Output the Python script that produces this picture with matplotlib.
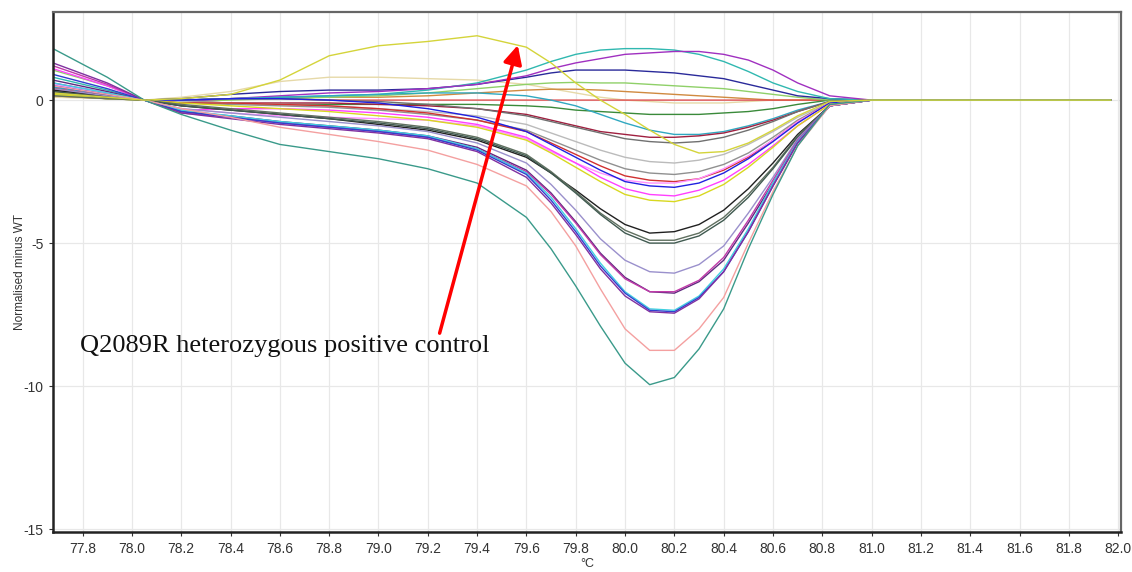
import matplotlib
matplotlib.use("Agg")
import matplotlib.pyplot as plt
from matplotlib.ticker import MultipleLocator

# Temperatures (°C) at which curves are sampled
temps = [77.68, 77.9, 78.05, 78.2, 78.4, 78.6, 78.8, 79.0, 79.2, 79.4, 79.6, 79.7,
         79.8, 79.9, 80.0, 80.1, 80.2, 80.3, 80.4, 80.5, 80.6, 80.7, 80.83, 81.0, 81.97]

# Normalised minus WT curves (one list per sample)
teal_deep = [1.80, 0.80, 0.00, -0.50, -1.05, -1.55, -1.80, -2.05, -2.40, -2.90, -4.10, -5.20, -6.50, -7.90, -9.20, -9.95, -9.70, -8.70, -7.30, -5.20, -3.30, -1.60, -0.15, 0.00, 0.00]
salmon = [0.50, 0.20, 0.00, -0.30, -0.60, -0.95, -1.20, -1.45, -1.75, -2.25, -3.00, -3.90, -5.10, -6.60, -8.00, -8.75, -8.75, -8.00, -6.90, -5.00, -3.20, -1.60, -0.20, 0.00, 0.00]
blue_74 = [0.90, 0.40, 0.00, -0.40, -0.60, -0.80, -0.95, -1.10, -1.30, -1.75, -2.60, -3.50, -4.60, -5.80, -6.75, -7.35, -7.40, -6.90, -6.00, -4.60, -3.00, -1.50, -0.20, 0.00, 0.00]
cyan_73 = [0.60, 0.25, 0.00, -0.35, -0.55, -0.75, -0.90, -1.05, -1.25, -1.70, -2.55, -3.40, -4.50, -5.70, -6.70, -7.30, -7.35, -6.85, -5.90, -4.50, -2.90, -1.45, -0.20, 0.00, 0.00]
purple_74 = [1.30, 0.60, 0.00, -0.45, -0.65, -0.85, -1.00, -1.15, -1.35, -1.80, -2.70, -3.60, -4.70, -5.90, -6.85, -7.40, -7.45, -6.95, -6.00, -4.60, -3.00, -1.50, -0.20, 0.00, 0.00]
magenta_67 = [1.20, 0.55, 0.00, -0.45, -0.60, -0.80, -0.95, -1.10, -1.30, -1.70, -2.50, -3.30, -4.30, -5.40, -6.25, -6.70, -6.70, -6.30, -5.50, -4.20, -2.80, -1.40, -0.20, 0.00, 0.00]
dpurple_67 = [0.70, 0.30, 0.00, -0.40, -0.55, -0.75, -0.90, -1.05, -1.25, -1.65, -2.45, -3.25, -4.25, -5.35, -6.20, -6.70, -6.75, -6.35, -5.60, -4.30, -2.90, -1.45, -0.20, 0.00, 0.00]
lpurple_60 = [0.40, 0.15, 0.00, -0.30, -0.45, -0.60, -0.75, -0.90, -1.10, -1.50, -2.20, -2.95, -3.85, -4.85, -5.60, -6.00, -6.05, -5.75, -5.10, -3.95, -2.70, -1.35, -0.20, 0.00, 0.00]
dgreen_50 = [0.30, 0.10, 0.00, -0.20, -0.35, -0.50, -0.65, -0.80, -1.00, -1.35, -1.95, -2.55, -3.25, -4.00, -4.65, -5.00, -5.00, -4.75, -4.20, -3.40, -2.40, -1.30, -0.20, 0.00, 0.00]
olive_49 = [0.15, 0.05, 0.00, -0.15, -0.30, -0.45, -0.60, -0.75, -0.95, -1.30, -1.90, -2.50, -3.20, -3.95, -4.55, -4.90, -4.90, -4.65, -4.10, -3.30, -2.35, -1.25, -0.20, 0.00, 0.00]
black_46 = [0.35, 0.15, 0.00, -0.20, -0.35, -0.50, -0.65, -0.85, -1.05, -1.40, -2.00, -2.55, -3.15, -3.80, -4.35, -4.65, -4.60, -4.35, -3.85, -3.10, -2.20, -1.20, -0.20, 0.00, 0.00]
yellow_35 = [0.20, 0.05, 0.00, -0.10, -0.20, -0.30, -0.40, -0.55, -0.70, -0.95, -1.40, -1.85, -2.35, -2.85, -3.30, -3.50, -3.55, -3.35, -2.95, -2.35, -1.65, -0.90, -0.15, 0.00, 0.00]
pink_33 = [1.10, 0.50, 0.00, -0.35, -0.30, -0.30, -0.35, -0.45, -0.60, -0.85, -1.30, -1.75, -2.20, -2.70, -3.10, -3.30, -3.35, -3.15, -2.80, -2.25, -1.60, -0.90, -0.15, 0.00, 0.00]
blue_30 = [0.50, 0.20, 0.00, 0.00, 0.05, 0.05, 0.00, -0.10, -0.30, -0.60, -1.10, -1.55, -2.00, -2.45, -2.85, -3.00, -3.05, -2.90, -2.55, -2.05, -1.45, -0.80, -0.10, 0.00, 0.00]
lpink_29 = [0.55, 0.25, 0.00, -0.30, -0.45, -0.55, -0.60, -0.65, -0.70, -0.90, -1.35, -1.80, -2.20, -2.55, -2.80, -2.90, -2.90, -2.75, -2.40, -1.95, -1.40, -0.75, -0.10, 0.00, 0.00]
red_28 = [0.40, 0.15, 0.00, -0.10, -0.10, -0.15, -0.20, -0.30, -0.45, -0.70, -1.10, -1.50, -1.90, -2.30, -2.65, -2.80, -2.85, -2.75, -2.45, -2.00, -1.40, -0.75, -0.10, 0.00, 0.00]
gray_26 = [0.25, 0.10, 0.00, -0.10, -0.15, -0.20, -0.25, -0.35, -0.50, -0.70, -1.05, -1.40, -1.75, -2.10, -2.40, -2.55, -2.60, -2.50, -2.25, -1.85, -1.30, -0.70, -0.10, 0.00, 0.00]
lgray_22 = [0.20, 0.05, 0.00, -0.05, -0.10, -0.15, -0.20, -0.30, -0.40, -0.55, -0.85, -1.15, -1.45, -1.75, -2.00, -2.15, -2.20, -2.10, -1.90, -1.55, -1.10, -0.60, -0.10, 0.00, 0.00]
positive_control = [0.25, 0.10, 0.00, 0.05, 0.20, 0.70, 1.55, 1.90, 2.05, 2.25, 1.85, 1.30, 0.60, 0.00, -0.50, -1.05, -1.55, -1.85, -1.80, -1.50, -1.05, -0.55, -0.05, 0.00, 0.00]
dgray_15 = [0.30, 0.10, 0.00, 0.00, 0.05, 0.05, 0.00, -0.05, -0.15, -0.30, -0.55, -0.75, -0.95, -1.15, -1.35, -1.45, -1.50, -1.45, -1.30, -1.05, -0.75, -0.40, -0.05, 0.00, 0.00]
cyan_12 = [0.45, 0.20, 0.00, 0.00, 0.05, 0.10, 0.15, 0.20, 0.25, 0.25, 0.15, 0.00, -0.20, -0.50, -0.80, -1.05, -1.20, -1.20, -1.10, -0.90, -0.65, -0.35, -0.05, 0.00, 0.00]
dred_13 = [0.40, 0.15, 0.00, -0.05, -0.10, -0.10, -0.10, -0.15, -0.20, -0.30, -0.50, -0.70, -0.90, -1.10, -1.20, -1.30, -1.30, -1.25, -1.15, -0.95, -0.70, -0.40, -0.05, 0.00, 0.00]
green_05 = [0.20, 0.05, 0.00, -0.05, -0.10, -0.15, -0.15, -0.15, -0.15, -0.15, -0.20, -0.25, -0.35, -0.40, -0.45, -0.50, -0.50, -0.50, -0.45, -0.40, -0.30, -0.15, 0.00, 0.00, 0.00]
red_zero = [0.30, 0.10, 0.00, 0.00, 0.05, 0.05, 0.00, 0.00, 0.00, 0.00, 0.00, 0.00, 0.00, 0.00, 0.00, 0.00, 0.00, 0.00, 0.00, 0.00, 0.00, 0.00, 0.00, 0.00, 0.00]
orange_04 = [0.15, 0.05, 0.00, 0.00, 0.05, 0.10, 0.10, 0.10, 0.15, 0.25, 0.35, 0.38, 0.38, 0.35, 0.30, 0.25, 0.20, 0.15, 0.10, 0.05, 0.00, 0.00, 0.00, 0.00, 0.00]
lgreen_06 = [1.05, 0.50, 0.00, -0.05, 0.00, 0.05, 0.10, 0.15, 0.25, 0.40, 0.55, 0.60, 0.62, 0.60, 0.60, 0.55, 0.50, 0.45, 0.40, 0.30, 0.20, 0.10, 0.00, 0.00, 0.00]
navy_10 = [0.35, 0.15, 0.00, 0.05, 0.20, 0.30, 0.35, 0.35, 0.40, 0.55, 0.80, 0.95, 1.05, 1.05, 1.05, 1.00, 0.95, 0.85, 0.75, 0.55, 0.35, 0.15, 0.05, 0.00, 0.00]
cyan_18 = [0.80, 0.35, 0.00, 0.00, 0.05, 0.10, 0.15, 0.20, 0.35, 0.60, 1.05, 1.35, 1.60, 1.75, 1.80, 1.80, 1.75, 1.60, 1.35, 1.00, 0.60, 0.30, 0.05, 0.00, 0.00]
violet_17 = [0.60, 0.25, 0.00, -0.05, 0.05, 0.15, 0.25, 0.30, 0.40, 0.55, 0.85, 1.10, 1.30, 1.45, 1.60, 1.65, 1.70, 1.70, 1.60, 1.40, 1.05, 0.60, 0.15, 0.00, 0.00]
tan_08 = [0.10, 0.05, 0.00, 0.10, 0.30, 0.65, 0.80, 0.80, 0.75, 0.70, 0.55, 0.40, 0.25, 0.10, 0.00, -0.05, -0.10, -0.10, -0.10, -0.05, 0.00, 0.00, 0.00, 0.00, 0.00]

curves = [
    (tan_08, "#e6d9a8"), (orange_04, "#d08a40"), (red_zero, "#e05050"),
    (green_05, "#3a8a3a"), (lgreen_06, "#8fd068"), (navy_10, "#2a2a9a"),
    (cyan_18, "#30b8b0"), (violet_17, "#a030c0"), (cyan_12, "#30a8c0"),
    (dred_13, "#a02040"), (dgray_15, "#707070"), (lgray_22, "#bbbbbb"),
    (gray_26, "#909090"), (red_28, "#d03030"), (lpink_29, "#ff90ff"),
    (blue_30, "#2020e0"), (pink_33, "#ff40ff"), (yellow_35, "#d8d820"),
    (black_46, "#202020"), (olive_49, "#607060"), (dgreen_50, "#405a50"),
    (lpurple_60, "#9a90cc"), (dpurple_67, "#602a80"), (magenta_67, "#c03aa8"),
    (cyan_73, "#40d0e0"), (blue_74, "#3040d0"), (purple_74, "#8030a0"),
    (salmon, "#f4a0a0"), (teal_deep, "#3a9a8a"), (positive_control, "#d4d43a"),
]

y_ticks = [0, -5, -10, -15]
annotation_text = "Q2089R heterozygous positive control"

fig = plt.figure(figsize=(11.32, 5.72), dpi=100)
ax = fig.add_axes([0.0468, 0.070, 0.9432, 0.909])

for vals, col in curves:
    ax.plot(temps, vals, color=col, lw=1.0, solid_joinstyle="round")

ax.set_xlim(77.68, 82.01)
ax.set_ylim(-15.1, 3.08)
ax.xaxis.set_major_locator(MultipleLocator(0.2))
ax.xaxis.set_major_formatter(plt.FuncFormatter(lambda v, p: f"{v:.1f}"))
ax.set_yticks(y_ticks)
ax.set_yticklabels([str(t) for t in y_ticks])
ax.grid(True, color="#e8e8e8", lw=0.9)
ax.set_axisbelow(True)
ax.tick_params(axis="both", labelsize=10, colors="#333333", length=3, width=0.8, pad=4)
for lbl in ax.get_xticklabels() + ax.get_yticklabels():
    lbl.set_family("Liberation Sans")
for side in ["left", "bottom"]:
    ax.spines[side].set_color("#222222")
    ax.spines[side].set_linewidth(1.8)
for side in ["top", "right"]:
    ax.spines[side].set_color("#666666")
    ax.spines[side].set_linewidth(1.6)

ax.set_ylabel("Normalised minus WT", fontsize=8.5, color="#333333", labelpad=-2,
              family="Liberation Sans")
ax.set_xlabel("°C", fontsize=9, color="#333333", labelpad=2, family="Liberation Sans")

ax.text(77.79, -8.81, annotation_text, fontsize=19, family="Liberation Serif",
        color="#111111", va="baseline", ha="left")
ax.annotate("", xy=(79.565, 1.92), xytext=(79.248, -8.15),
            arrowprops=dict(arrowstyle="-|>", color="#ff0000", lw=2.5, mutation_scale=28,
                            shrinkA=0, shrinkB=0))

fig.savefig("out.png", dpi=100, facecolor="white")
